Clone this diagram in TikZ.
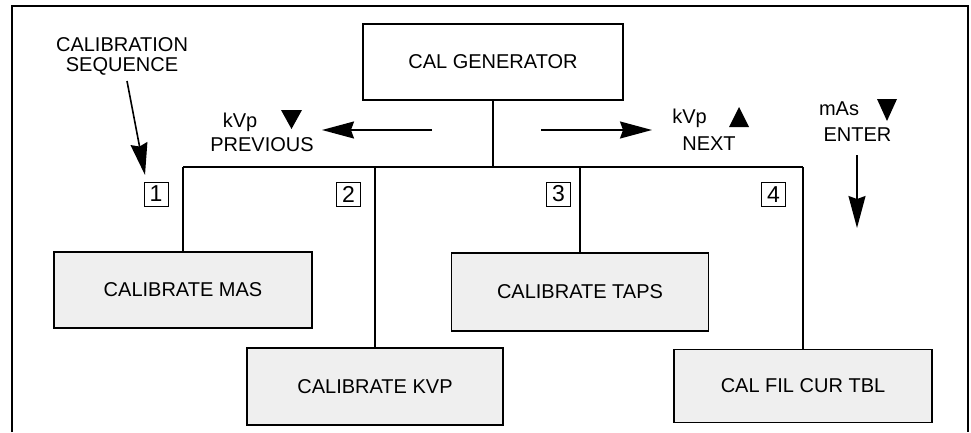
\documentclass[tikz,border=0pt]{standalone}
\usepackage{fontspec}
\setmainfont{Liberation Sans}
\usetikzlibrary{arrows.meta}
\definecolor{boxgray}{HTML}{EFEFEF}
\tikzset{
  stagebox/.style={draw=black, line width=1.6pt, fill=boxgray, inner sep=0pt,
    font=\fontsize{20}{20}\selectfont},
  genbox/.style={draw=black, line width=1.6pt, fill=white, inner sep=0pt,
    minimum width=260pt, minimum height=76pt, font=\fontsize{20}{20}\selectfont},
  numbox/.style={draw=black, line width=0.8pt, inner sep=0pt, minimum width=24pt,
    minimum height=24pt, font=\fontsize{23}{23}\selectfont},
  lbl/.style={inner sep=0pt, align=center, font=\fontsize{20}{20}\selectfont},
  wire/.style={line width=1.6pt},
  bigarrow/.style={line width=1.6pt, -{Stealth[length=32pt,width=17pt,inset=3pt]}},
  tri/.style={fill=black, draw=none}
}
\begin{document}
\begin{tikzpicture}[x=1pt,y=-1pt]
\useasboundingbox (0,0) rectangle (971,432);
% outer frame
\draw[line width=2pt] (12,432) -- (12,6) -- (968,6) -- (968,432);

% boxes
\node[genbox] (gen) at (493,62) {CAL GENERATOR};
\node[stagebox, minimum width=258pt, minimum height=76pt] (mas) at (183,290) {CALIBRATE MAS};
\node[stagebox, minimum width=256pt, minimum height=77pt] (kvp) at (375,386.5) {CALIBRATE KVP};
\node[stagebox, minimum width=257pt, minimum height=78pt] (taps) at (580,292) {CALIBRATE TAPS};
\node[stagebox, minimum width=258pt, minimum height=73pt] (fil) at (803,386) {CAL FIL CUR TBL};

% bus
\coordinate (busL) at (183,167);
\coordinate (busR) at (803,167);
\draw[wire] (gen.south) -- (gen.south |- busL);
\draw[wire] (busL) -- (busR);
\draw[wire] (mas.north) -- (mas.north |- busL);
\draw[wire] (kvp.north) -- (kvp.north |- busL);
\draw[wire] (taps.north) -- (taps.north |- busL);
\draw[wire] (fil.north) -- (fil.north |- busL);

% sequence numbers
\node[numbox] (n1) at (156,194) {1};
\node[numbox] (n2) at (348.5,194) {2};
\node[numbox] (n3) at (558.5,194) {3};
\node[numbox] (n4) at (773.5,194.5) {4};

% calibration sequence label and arrow
\node[lbl] (calseq) at (122,56) {CALIBRATION\\SEQUENCE};
\coordinate (csA) at (127,81);
\coordinate (csB) at (145,175);
\draw[bigarrow] (csA) -- (csB);

% previous
\node[lbl, anchor=base] (kvpL) at (240,127) {kVp};
\node[lbl, anchor=base] (prev) at (262,151) {PREVIOUS};
\fill[tri] (281,110) -- (302,110) -- (291.5,129) -- cycle;
\coordinate (pA) at (432,130);
\coordinate (pB) at (322,130);
\draw[bigarrow] (pA) -- (pB);

% next
\node[lbl, anchor=base] (kvpR) at (689.5,123) {kVp};
\node[lbl, anchor=base] (next) at (709,150) {NEXT};
\fill[tri] (739,107) -- (749,127) -- (729,127) -- cycle;
\coordinate (nA) at (541,130);
\coordinate (nB) at (652,130);
\draw[bigarrow] (nA) -- (nB);

% enter
\node[lbl, anchor=base] (mas2) at (839,115) {mAs};
\node[lbl, anchor=base] (enter) at (857.5,141) {ENTER};
\fill[tri] (877,99) -- (897,99) -- (887,121) -- cycle;
\coordinate (eA) at (857,155);
\coordinate (eB) at (857,228);
\draw[bigarrow] (eA) -- (eB);
\end{tikzpicture}
\end{document}
